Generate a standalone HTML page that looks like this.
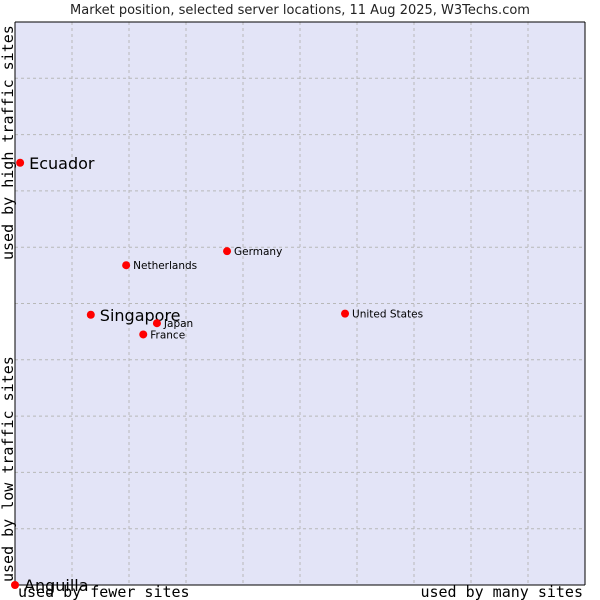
<!DOCTYPE html>
<html><head><meta charset="utf-8"><style>
html,body{margin:0;padding:0;background:#fff;width:600px;height:600px;overflow:hidden}
</style></head><body>
<svg id="chart" width="600" height="600" xmlns="http://www.w3.org/2000/svg">
<text x="300" y="14" text-anchor="middle" font-family="DejaVu Sans, sans-serif" font-size="13" fill="#222">Market position, selected server locations, 11 Aug 2025, W3Techs.com</text>
<rect x="15" y="22" width="570" height="563" fill="#e3e4f7" stroke="none"/>
<g id="grid"></g>
<line x1="15" y1="22" x2="15" y2="585" stroke="#000" stroke-width="1"/>
<line x1="15" y1="585" x2="585" y2="585" stroke="#000" stroke-width="1"/>
<line x1="15" y1="22" x2="585" y2="22" stroke="#000" stroke-width="1"/>
<line x1="585" y1="22" x2="585" y2="585" stroke="#000" stroke-width="1"/>
<g id="points"></g>
<text x="18" y="597" font-family="DejaVu Sans Mono, monospace" font-size="15" fill="#000">used by fewer sites</text>
<text x="583" y="597" text-anchor="end" font-family="DejaVu Sans Mono, monospace" font-size="15" fill="#000">used by many sites</text>
<text transform="translate(13,582) rotate(-90)" font-family="DejaVu Sans Mono, monospace" font-size="15" fill="#000">used by low traffic sites</text>
<text transform="translate(13,260) rotate(-90)" font-family="DejaVu Sans Mono, monospace" font-size="15" fill="#000">used by high traffic sites</text>
</svg>
<script>
const categories = ["Ecuador","Anguilla","Singapore","Netherlands","Germany","United States","Japan","France"];
const xValues = [0.9, 0, 13.3, 19.5, 37.2, 57.9, 24.9, 22.5];
const yValues = [75, 0, 48, 56.8, 59.3, 48.2, 46.5, 44.5];
const bigLabels = ["Ecuador","Anguilla","Singapore"];
const gridTicks = [10,20,30,40,50,60,70,80,90];
const NS="http://www.w3.org/2000/svg";
const L=15,R=585,T=22,B=585;
function sx(v){return L+(R-L)*v/100;}
function sy(v){return B-(B-T)*v/100;}
const grid=document.getElementById('grid');
gridTicks.forEach(t=>{
  const v=document.createElementNS(NS,'line');
  
  
  v.setAttribute('x1',sx(t));v.setAttribute('x2',sx(t));v.setAttribute('y1',T);v.setAttribute('y2',B);
  v.setAttribute('stroke','#b8b8b8');v.setAttribute('stroke-dasharray','3,3');
  grid.appendChild(v);
  const h=document.createElementNS(NS,'line');
  
  
  h.setAttribute('x1',L);h.setAttribute('x2',R);h.setAttribute('y1',sy(t));h.setAttribute('y2',sy(t));
  h.setAttribute('stroke','#b8b8b8');h.setAttribute('stroke-dasharray','3,3');
  grid.appendChild(h);
});
const pts=document.getElementById('points');
categories.forEach((c,i)=>{
  const x=sx(xValues[i]),y=sy(yValues[i]);
  const big=bigLabels.includes(c);
  const d=document.createElementNS(NS,'circle');
  
  
  d.setAttribute('cx',x);d.setAttribute('cy',y);d.setAttribute('r',4);d.setAttribute('fill','#f00');
  pts.appendChild(d);
  const t=document.createElementNS(NS,'text');
  
  
  t.setAttribute('x',x+(big?9:7));t.setAttribute('y',y+(big?6:4));
  t.setAttribute('font-family','DejaVu Sans, sans-serif');
  t.setAttribute('font-size',big?16:10.5);t.setAttribute('fill','#000');
  t.textContent=c;
  pts.appendChild(t);
});
</script>
</body></html>
